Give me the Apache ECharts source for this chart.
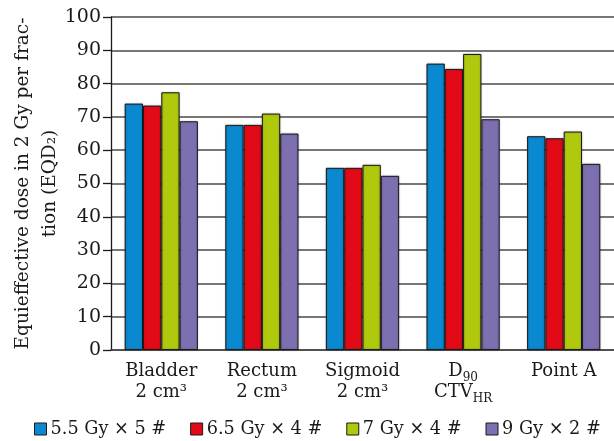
<!DOCTYPE html>
<html>
<head>
<meta charset="utf-8">
<script src="https://cdn.jsdelivr.net/npm/echarts@6/dist/echarts.min.js"></script>
<style>
  html, body { margin: 0; padding: 0; background: #fff; }
  #chart { width: 614px; height: 441px; }
</style>
</head>
<body>
<div id="chart"></div>
<script>
// categories (rich tag "sub" used for the subscripts)
const categories = ['Bladder\n2 cm³', 'Rectum\n2 cm³', 'Sigmoid\n2 cm³', 'D{sub|90}\nCTV{sub|HR}', 'Point A']
const seriesNames = ['5.5 Gy × 5 #', '6.5 Gy × 4 #', '7 Gy × 4 #', '9 Gy × 2 #']
const dose55x5 = [74.0, 67.6, 54.7, 86.0, 64.2]
const dose65x4 = [73.4, 67.6, 54.7, 84.4, 63.6]
const dose7x4 = [77.4, 71.0, 55.6, 88.9, 65.6]
const dose9x2 = [68.7, 65.0, 52.3, 69.3, 55.9]
const colors = ['#0a89d0', '#e20a16', '#b0c90d', '#7d6fb0']

const FONT = 'DejaVu Serif'
const chart = echarts.init(document.getElementById('chart'))

const barStyle = (color) => ({
  color: color,
  borderColor: '#1a1a1a',
  borderWidth: 1,
  shadowColor: 'rgba(0,0,0,0.25)',
  shadowBlur: 2
})

chart.setOption({
  animation: false,
  textStyle: { fontFamily: FONT, color: '#1a1a1a' },
  grid: {
    left: 111,
    top: 17,
    width: 508,
    height: 333
  },
  legend: {
    left: 29,
    top: 415,
    itemWidth: 12,
    itemHeight: 12,
    itemGap: 24,
    icon: 'rect',
    textStyle: { fontFamily: FONT, fontSize: 17.7, color: '#1a1a1a', padding: [0, 0, 0, -1] },
    itemStyle: { borderColor: '#1a1a1a', borderWidth: 1 },
    data: seriesNames
  },
  xAxis: {
    type: 'category',
    data: categories,
    axisTick: { show: false },
    axisLine: { lineStyle: { color: '#444', width: 1.5 } },
    axisLabel: {
      interval: 0,
      fontFamily: FONT,
      fontSize: 18,
      color: '#1a1a1a',
      lineHeight: 21,
      margin: 11,
      rich: {
        sub: { fontFamily: FONT, fontSize: 12, lineHeight: 13, padding: [12, 0, 0, 0] }
      }
    }
  },
  yAxis: {
    type: 'value',
    min: 0,
    max: 100,
    interval: 10,
    name: 'Equieffective dose in 2 Gy per frac-\ntion (EQD₂)',
    nameLocation: 'middle',
    nameRotate: 90,
    nameGap: 47,
    nameMoveOverlap: false,
    nameTextStyle: { fontFamily: FONT, fontSize: 18.5, color: '#1a1a1a', lineHeight: 27 },
    axisLine: { show: true, lineStyle: { color: '#1a1a1a', width: 1.3 } },
    axisTick: { show: true, length: 8, lineStyle: { color: '#1a1a1a', width: 1.3 } },
    axisLabel: { fontFamily: FONT, fontSize: 19, color: '#1a1a1a', margin: 10 },
    splitLine: { lineStyle: { color: '#4a4a4a', width: 1.5 } }
  },
  series: [
    { name: seriesNames[0], type: 'bar', data: dose55x5, barWidth: 18.3, barGap: '0%', itemStyle: barStyle(colors[0]) },
    { name: seriesNames[1], type: 'bar', data: dose65x4, barWidth: 18.3, barGap: '0%', itemStyle: barStyle(colors[1]) },
    { name: seriesNames[2], type: 'bar', data: dose7x4, barWidth: 18.3, barGap: '0%', itemStyle: barStyle(colors[2]) },
    { name: seriesNames[3], type: 'bar', data: dose9x2, barWidth: 18.3, barGap: '0%', itemStyle: barStyle(colors[3]) }
  ]
})
</script>
</body>
</html>
